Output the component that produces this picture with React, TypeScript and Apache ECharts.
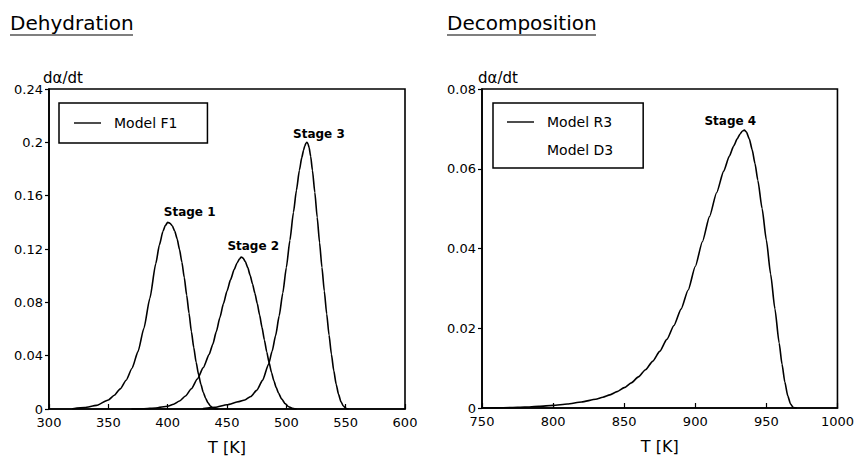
import React, { useEffect, useRef } from "react";
import * as echarts from "echarts";

// ---- Data ----
const stage1T = [320, 330, 340, 350, 355, 360, 365, 370, 375, 380, 385, 390, 393, 396, 398, 400, 402, 404, 406, 408, 410, 412, 414, 416, 418, 420, 422, 424, 426, 428, 430, 432, 434, 436, 438, 440, 442];
const stage1V = [0.0002, 0.001, 0.0027, 0.0068, 0.0103, 0.0151, 0.0216, 0.0306, 0.0431, 0.0606, 0.0831, 0.1091, 0.1229, 0.1331, 0.1375, 0.14, 0.1393, 0.1372, 0.1333, 0.1275, 0.1195, 0.11, 0.0985, 0.0855, 0.0718, 0.058, 0.046, 0.035, 0.026, 0.0185, 0.0125, 0.008, 0.0046, 0.0022, 0.0008, 0.0001, 0];

const stage2T = [370, 380, 390, 400, 405, 410, 415, 420, 425, 430, 435, 438, 441, 444, 447, 450, 453, 456, 458.5, 460.5, 462, 463.5, 465.5, 467.5, 469.5, 471.5, 473.5, 475.5, 477.5, 479.5, 481.5, 483.5, 485.5, 487.5, 489.5, 491.5, 493.5, 496, 499, 502, 505, 508];
const stage2V = [0, 0.0002, 0.0008, 0.0021, 0.0036, 0.006, 0.0097, 0.0152, 0.0225, 0.031, 0.041, 0.0485, 0.058, 0.0685, 0.079, 0.0885, 0.097, 0.1045, 0.1095, 0.1125, 0.114, 0.1133, 0.1105, 0.106, 0.1002, 0.0938, 0.0868, 0.079, 0.0704, 0.0612, 0.0518, 0.0428, 0.0346, 0.0274, 0.0212, 0.016, 0.0118, 0.0076, 0.004, 0.0017, 0.0005, 0];

const stage3T = [430, 440, 450, 460, 465, 470, 475, 480, 485, 488, 491, 494, 497, 500, 503, 506, 508.5, 511, 513, 514.5, 515.5, 516.5, 517.3, 518.2, 519.2, 520.5, 522, 524, 526, 528, 530, 532, 534, 536, 538, 540, 542, 544, 546, 548, 550, 552];
const stage3V = [0.0003, 0.0012, 0.0032, 0.0055, 0.0068, 0.0094, 0.014, 0.0215, 0.0335, 0.0432, 0.0552, 0.07, 0.087, 0.106, 0.1265, 0.1475, 0.164, 0.179, 0.1885, 0.194, 0.1972, 0.1993, 0.2, 0.199, 0.196, 0.1895, 0.179, 0.1625, 0.1438, 0.1248, 0.1062, 0.0884, 0.0714, 0.0554, 0.041, 0.0286, 0.0186, 0.011, 0.0056, 0.0023, 0.0006, 0];

const stage4T = [750, 760, 770, 780, 790, 800, 810, 820, 830, 835, 840, 845, 850, 855, 860, 865, 870, 875, 880, 885, 890, 895, 900, 905, 910, 915, 920, 924, 927, 929.5, 931.5, 933, 934.5, 936, 938, 940, 942, 944, 947, 950, 953, 956, 959, 961, 963, 965, 967, 969, 971];
const stage4V = [0, 0.00003, 0.0001, 0.00022, 0.0004, 0.00065, 0.001, 0.0015, 0.0022, 0.0027, 0.0033, 0.0041, 0.0051, 0.0063, 0.0078, 0.0096, 0.0117, 0.0142, 0.0172, 0.0207, 0.0248, 0.0296, 0.0355, 0.0417, 0.048, 0.054, 0.0594, 0.0632, 0.0657, 0.0675, 0.0687, 0.0694, 0.0697, 0.0692, 0.0675, 0.0648, 0.0613, 0.0571, 0.05, 0.0421, 0.0336, 0.0249, 0.0163, 0.011, 0.0065, 0.0031, 0.001, 0.0001, 0];

const stageNames = ["Stage 1", "Stage 2", "Stage 3", "Stage 4"];
const panelTitles = ["Dehydration", "Decomposition"];
const legendLeft = ["Model F1"];
const legendRight = ["Model R3", "Model D3"];
const yName = "dα/dt";
const xName = "T [K]";

const FONT = "DejaVu Sans";

function zip(t: number[], v: number[]) {
  return t.map((x, i) => [x, v[i]]);
}
function peak(t: number[], v: number[]) {
  let k = 0;
  v.forEach((y, i) => {
    if (y > v[k]) k = i;
  });
  return [t[k], v[k]];
}

function curve(
  name: string,
  t: number[],
  v: number[],
  axis: number,
  label: string,
  offset: number[]
) {
  return {
    type: "line",
    name,
    xAxisIndex: axis,
    yAxisIndex: axis,
    data: zip(t, v),
    showSymbol: false,
    smooth: 0.2,
    smoothMonotone: "x",
    lineStyle: { color: "#000", width: 1.6, join: "round", cap: "round" },
    itemStyle: { color: "#000" },
    silent: true,
    markPoint: {
      symbol: "circle",
      symbolSize: 0,
      silent: true,
      itemStyle: { color: "transparent" },
      label: {
        show: true,
        formatter: label,
        color: "#000",
        fontFamily: FONT,
        fontSize: 12,
        fontWeight: "bold",
        offset,
      },
      data: [{ coord: peak(t, v) }],
    },
  };
}

function axisX(gridIndex: number, min: number, max: number) {
  return {
    type: "value",
    gridIndex,
    min,
    max,
    interval: 50,
    name: xName,
    nameLocation: "middle",
    nameGap: 30,
    nameTextStyle: { fontFamily: FONT, fontSize: 16, color: "#000" },
    axisLine: { show: true, lineStyle: { color: "#000", width: 1.6 } },
    axisTick: { show: true, inside: true, length: 5, lineStyle: { color: "#000", width: 1.2 } },
    axisLabel: {
      fontFamily: FONT,
      fontSize: 13,
      color: "#000",
      margin: 7,
      formatter: (v: number) => String(v),
    },
    splitLine: { show: false },
  };
}

function axisY(gridIndex: number, max: number, interval: number) {
  return {
    type: "value",
    gridIndex,
    min: 0,
    max,
    interval,
    axisLine: { show: true, lineStyle: { color: "#000", width: 1.6 } },
    axisTick: { show: true, inside: false, length: 4, lineStyle: { color: "#000", width: 1.2 } },
    axisLabel: {
      fontFamily: FONT,
      fontSize: 13,
      color: "#000",
      margin: 6,
      formatter: (v: number) => String(+v.toFixed(4)),
    },
    splitLine: { show: false },
  };
}

const legendCommon = {
  orient: "vertical",
  icon: "rect",
  itemWidth: 27,
  itemHeight: 1.4,
  backgroundColor: "#fff",
  borderColor: "#000",
  borderWidth: 1.5,
  borderRadius: 0,
  selectedMode: false,
  itemStyle: { color: "#000" },
  textStyle: { fontFamily: FONT, fontSize: 14, color: "#000", padding: [0, 0, 0, 8] },
};

const titleStyle = { fontFamily: FONT, fontSize: 20, fontWeight: "normal", color: "#000" };

const option = {
  animation: false,
  backgroundColor: "#fff",
  title: [
    { text: panelTitles[0], left: 10, top: 13, padding: 0, textStyle: titleStyle },
    { text: panelTitles[1], left: 447, top: 13, padding: 0, textStyle: titleStyle },
  ],
  grid: [
    { left: 49, right: 452, top: 89, bottom: 57, show: true, borderColor: "#000", borderWidth: 1.6, containLabel: false },
    { left: 482, right: 19, top: 89, bottom: 58, show: true, borderColor: "#000", borderWidth: 1.6, containLabel: false },
  ],
  xAxis: [axisX(0, 300, 600), axisX(1, 750, 1000)],
  yAxis: [axisY(0, 0.24, 0.04), axisY(1, 0.08, 0.02)],
  legend: [
    {
      ...legendCommon,
      left: 59,
      top: 103,
      padding: [13, 30, 13, 15],
      data: legendLeft.map((n) => ({ name: n })),
    },
    {
      ...legendCommon,
      left: 493,
      top: 103,
      padding: [12, 30, 11, 14],
      itemGap: 14,
      data: [
        { name: legendRight[0] },
        { name: legendRight[1], itemStyle: { opacity: 0 } },
      ],
    },
  ],
  graphic: [
    { type: "line", shape: { x1: 10, y1: 35, x2: 133, y2: 35 }, style: { stroke: "#000", lineWidth: 1.2 } },
    { type: "line", shape: { x1: 447, y1: 35, x2: 596, y2: 35 }, style: { stroke: "#000", lineWidth: 1.2 } },
    { type: "text", left: 43, top: 70, style: { text: yName, font: `15px "${FONT}"`, fill: "#000" } },
    { type: "text", left: 478, top: 70, style: { text: yName, font: `15px "${FONT}"`, fill: "#000" } },
  ],
  series: [
    curve(legendLeft[0], stage1T, stage1V, 0, stageNames[0], [22, -10]),
    curve(legendLeft[0], stage2T, stage2V, 0, stageNames[1], [12, -11]),
    curve(legendLeft[0], stage3T, stage3V, 0, stageNames[2], [12, -8]),
    curve(legendRight[0], stage4T, stage4V, 1, stageNames[3], [-14, -9]),
    {
      type: "line",
      name: legendRight[1],
      xAxisIndex: 1,
      yAxisIndex: 1,
      data: [],
      lineStyle: { opacity: 0 },
      itemStyle: { opacity: 0 },
    },
  ],
};

export default function App() {
  const ref = useRef<HTMLDivElement>(null);
  useEffect(() => {
    const chart = echarts.init(ref.current!, null, { renderer: "svg" });
    chart.setOption(option as any);
    return () => chart.dispose();
  }, []);
  return (
    <div
      ref={ref}
      style={{ position: "fixed", left: 0, top: 0, width: 857, height: 466, background: "#fff" }}
    />
  );
}
